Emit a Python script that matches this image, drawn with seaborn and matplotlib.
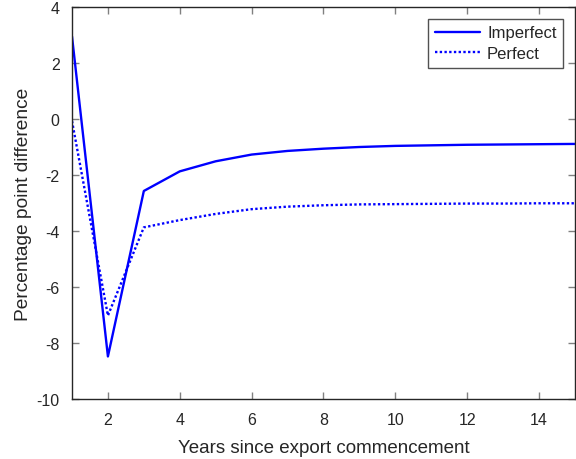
import numpy as np
import pandas as pd
import matplotlib
matplotlib.use("Agg")
import matplotlib.pyplot as plt
import seaborn as sns

years = list(range(1, 16))
imperfect = [2.95, -8.48, -2.57, -1.87, -1.51, -1.27, -1.14, -1.06, -1.00, -0.96, -0.94, -0.92, -0.91, -0.90, -0.89]
perfect = [-0.07, -7.02, -3.87, -3.61, -3.39, -3.22, -3.13, -3.08, -3.05, -3.04, -3.03, -3.02, -3.02, -3.01, -3.01]
series_names = ["Imperfect", "Perfect"]
x_ticks = [2, 4, 6, 8, 10, 12, 14]
y_ticks = [4, 2, 0, -2, -4, -6, -8, -10]

sns.set_theme(style="white")
plt.rcParams["font.family"] = ["Liberation Sans", "DejaVu Sans"]
plt.rcParams["axes.unicode_minus"] = False

df = pd.DataFrame({
    "year": years * 2,
    "value": imperfect + perfect,
    "series": [series_names[0]] * len(years) + [series_names[1]] * len(years),
})

fig = plt.figure(figsize=(5.76, 4.6), dpi=100)
ax = fig.add_axes([0.125, 0.1304, 0.873, 0.8522])
sns.lineplot(data=df, x="year", y="value", hue="series", style="series",
             palette=["#0000ff", "#0000ff"], dashes=[(None, None), (1, 1)],
             linewidth=1.7, ax=ax, legend=True)
ax.set_xlim(1, 15)
ax.set_ylim(-10, 4)
ax.set_xticks(x_ticks)
ax.set_yticks(y_ticks)
ax.set_xticklabels([str(t) for t in x_ticks])
ax.set_yticklabels([str(t) for t in y_ticks])
ax.set_xlabel("Years since export commencement", fontsize=13.5, color="#262626", labelpad=9)
ax.set_ylabel("Percentage point difference", fontsize=13.8, color="#262626", labelpad=3)
ax.tick_params(direction="in", length=5, width=1, color="#808080", labelsize=11.5,
               labelcolor="#262626", top=True, right=True, bottom=True, left=True, pad=9)
for s in ax.spines.values():
    s.set_color("#262626")
    s.set_linewidth(1)
leg = ax.legend(loc="upper right", fontsize=12, frameon=True, fancybox=False,
                edgecolor="#262626", borderpad=0.4, labelspacing=0.35,
                handlelength=2.75, handletextpad=0.4, borderaxespad=0.7)
leg.get_frame().set_linewidth(1)
fig.savefig("out.png", dpi=100)
